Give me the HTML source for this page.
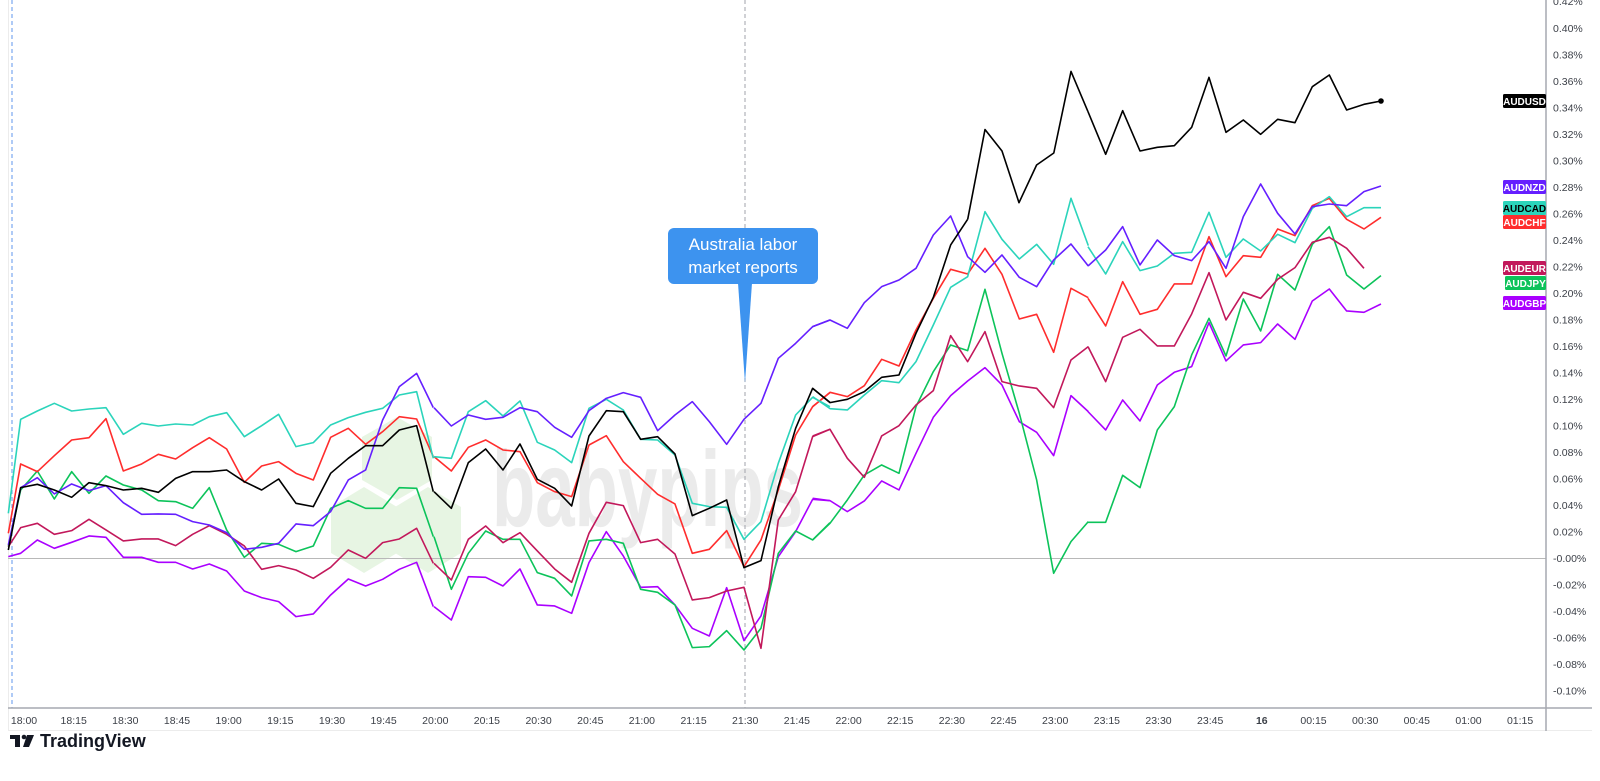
<!DOCTYPE html>
<html><head><meta charset="utf-8"><style>
html,body{margin:0;padding:0;background:#fff;width:1600px;height:781px;overflow:hidden}
svg{display:block;font-family:"Liberation Sans",sans-serif}
</style></head><body>
<svg width="1600" height="781" viewBox="0 0 1600 781" xmlns="http://www.w3.org/2000/svg">
<rect width="1600" height="781" fill="#fff"/>
<g fill="#e7f5e3">
<polygon points="397,417 432,437 432,480 397,500 362,480 362,437"/>
<polygon points="364,487 397,507 397,553 364,573 331,553 331,507"/>
<polygon points="428,487 461,507 461,553 428,573 395,553 395,507"/>
</g>
<text x="492" y="526" font-size="108" font-weight="bold" fill="#ebebeb" textLength="311" lengthAdjust="spacingAndGlyphs">babypips</text>
<line x1="8" y1="730.5" x2="1592" y2="730.5" stroke="#ececec"/>
<line x1="8.5" y1="0" x2="8.5" y2="730" stroke="#ececec"/>
<line x1="12" y1="0" x2="12" y2="708" stroke="#7aa8f0" stroke-width="1.2" stroke-dasharray="4,3"/>
<line x1="745" y1="0" x2="745" y2="708" stroke="#a0a3ab" stroke-width="1" stroke-dasharray="4,3"/>
<line x1="8" y1="558.5" x2="1546" y2="558.5" stroke="#b8b8b8" stroke-width="1"/>
<line x1="8" y1="708" x2="1592" y2="708" stroke="#a6a9b0" stroke-width="1.5"/>
<line x1="1546" y1="0" x2="1546" y2="731" stroke="#a6a9b0" stroke-width="1.5"/>
<g fill="none" stroke-width="1.6" stroke-linejoin="round">
<g stroke="#aa00ff">
<polyline transform="translate(0,340) scale(0.3333)" vector-effect="non-scaling-stroke" points="25,650 62,640 112,600 163,625 215,607 267,588 318,592 370,652 425,652 475,667 527,667 578,687 628,672 680,693 733,753 785,773 836,785 888,830 940,822 992,765 1045,717 1097,738 1148,718 1198,688 1250,667 1300,800"/>
<polyline transform="translate(430,340) scale(0.3333)" vector-effect="non-scaling-stroke" points="12,800 64,840 115,710 167,712 219,738 270,687 322,795 374,798 425,820 477,668 529,575 580,648 632,742 683,740 735,795 787,865 838,888 890,743 942,902 993,828 1045,650 1097,575 1148,478 1200,482"/>
<polyline transform="translate(800,180) scale(0.3333)" vector-effect="non-scaling-stroke" points="38,955 90,962 142,995 193,963 245,903 297,930 348,820 400,712 452,647 503,603 555,563 606,615 658,725 710,757 761,827 813,647 865,695"/>
<polyline transform="translate(1090,50) scale(0.3333)" vector-effect="non-scaling-stroke" points="-6,1085 47,1140 98,1050 150,1113 202,1005 253,967 305,950 357,818 408,933 460,885 512,878 563,822 615,868 667,753 718,717 770,783 822,787 873,762"/>
</g>
<g stroke="#0cc35a">
<polyline transform="translate(0,340) scale(0.3333)" vector-effect="non-scaling-stroke" points="25,620 62,450 112,393 163,477 215,395 267,460 318,408 370,435 425,450 475,482 527,485 578,505 628,443 680,570 733,652 785,610 836,613 888,635 940,618 992,505 1045,482 1097,505 1148,505 1198,443 1250,445 1300,590"/>
<polyline transform="translate(430,340) scale(0.3333)" vector-effect="non-scaling-stroke" points="12,590 64,748 115,640 167,573 219,598 270,598 322,698 374,715 425,768 477,603 529,598 580,610 632,748 683,757 735,795 787,923 838,920 890,872 942,930 993,865 1045,640 1097,573 1148,600 1200,548"/>
<polyline transform="translate(800,180) scale(0.3333)" vector-effect="non-scaling-stroke" points="38,1080 90,1030 142,960 193,885 245,855 297,880 348,680 400,575 452,495 503,512 555,328 606,520 658,700 710,900 761,1180 813,1085 865,1025"/>
<polyline transform="translate(1090,50) scale(0.3333)" vector-effect="non-scaling-stroke" points="-6,1417 47,1417 98,1276 150,1313 202,1140 253,1070 305,915 357,805 408,918 460,747 512,843 563,673 615,720 667,583 718,530 770,675 822,717 873,677"/>
</g>
<g stroke="#c2185b">
<polyline transform="translate(0,340) scale(0.3333)" vector-effect="non-scaling-stroke" points="25,620 62,563 112,550 163,583 215,572 267,538 318,570 370,603 425,597 475,597 527,617 578,583 628,557 680,583 733,618 785,688 836,677 888,690 940,715 992,682 1045,630 1097,655 1148,608 1198,597 1250,565 1300,670"/>
<polyline transform="translate(430,340) scale(0.3333)" vector-effect="non-scaling-stroke" points="12,670 64,720 115,598 167,558 219,608 270,578 322,633 374,687 425,727 477,580 529,487 580,497 632,608 683,598 735,642 787,780 838,773 890,753 942,742 993,925 1045,540 1097,455 1148,290 1200,268"/>
<polyline transform="translate(800,180) scale(0.3333)" vector-effect="non-scaling-stroke" points="38,768 90,748 142,835 193,892 245,768 297,737 348,675 400,632 452,467 503,545 555,455 606,605 658,618 710,625 761,683 813,540 865,500"/>
<polyline transform="translate(1090,50) scale(0.3333)" vector-effect="non-scaling-stroke" points="-6,890 47,995 98,862 150,838 202,888 253,888 305,792 357,668 408,810 460,727 512,745 563,688 615,653 667,577 718,562 770,595 822,655"/>
</g>
<g stroke="#ff2d2d">
<polyline transform="translate(0,340) scale(0.3333)" vector-effect="non-scaling-stroke" points="25,580 62,372 112,395 163,347 215,300 267,293 318,236 370,393 425,372 475,343 527,357 578,323 628,293 680,327 733,427 785,378 836,365 888,400 940,420 992,292 1045,265 1097,313 1148,275 1198,230 1250,237 1300,350"/>
<polyline transform="translate(430,340) scale(0.3333)" vector-effect="non-scaling-stroke" points="12,350 64,393 115,322 167,300 219,330 270,335 322,428 374,455 425,470 477,315 529,287 580,365 632,415 683,463 735,492 787,640 838,628 890,572 942,680 993,600 1045,450 1097,285 1148,200 1200,158"/>
<polyline transform="translate(800,180) scale(0.3333)" vector-effect="non-scaling-stroke" points="38,680 90,637 142,650 193,617 245,538 297,558 348,450 400,355 452,268 503,282 555,205 606,283 658,417 710,403 761,517 813,325 865,353"/>
<polyline transform="translate(1090,50) scale(0.3333)" vector-effect="non-scaling-stroke" points="-6,745 47,828 98,695 150,793 202,778 253,702 305,702 357,560 408,680 460,617 512,622 563,537 615,557 667,467 718,445 770,508 822,537 873,502"/>
</g>
<g stroke="#2bd4bb">
<polyline transform="translate(0,340) scale(0.3333)" vector-effect="non-scaling-stroke" points="25,520 62,238 112,213 163,190 215,213 267,207 318,203 370,283 425,250 475,258 527,252 578,255 628,230 680,218 733,290 785,257 836,223 888,320 940,308 992,255 1045,233 1097,217 1148,205 1198,165 1250,155 1300,355"/>
<polyline transform="translate(430,340) scale(0.3333)" vector-effect="non-scaling-stroke" points="12,350 64,355 115,215 167,182 219,228 270,183 322,307 374,330 425,368 477,205 529,178 580,210 632,298 683,300 735,345 787,490 838,500 890,502 942,598 993,545 1045,370 1097,225 1148,172 1200,200"/>
<polyline transform="translate(800,180) scale(0.3333)" vector-effect="non-scaling-stroke" points="38,650 90,686 142,690 193,645 245,602 297,608 348,545 400,435 452,322 503,290 555,95 606,178 658,237 710,193 761,253 813,55 865,197"/>
<polyline transform="translate(1090,50) scale(0.3333)" vector-effect="non-scaling-stroke" points="-6,590 47,672 98,575 150,662 202,648 253,610 305,607 357,487 408,622 460,567 512,603 563,553 615,578 667,475 718,440 770,500 822,473 873,473"/>
</g>
<g stroke="#651fff">
<polyline transform="translate(0,340) scale(0.3333)" vector-effect="non-scaling-stroke" points="25,615 62,443 112,413 163,462 215,432 267,452 318,437 370,488 425,523 475,522 527,523 578,545 628,555 680,578 733,628 785,622 836,610 888,552 940,557 992,515 1045,420 1097,390 1148,240 1198,140 1250,100 1300,203"/>
<polyline transform="translate(430,340) scale(0.3333)" vector-effect="non-scaling-stroke" points="12,203 64,258 115,225 167,238 219,232 270,203 322,215 374,262 425,292 477,212 529,175 580,158 632,172 683,272 735,225 787,185 838,245 890,313 942,238 993,190 1045,55 1097,10 1148,-40 1200,-60"/>
<polyline transform="translate(800,180) scale(0.3333)" vector-effect="non-scaling-stroke" points="38,440 90,420 142,445 193,368 245,320 297,300 348,265 400,165 452,108 503,230 555,277 606,225 658,292 710,320 761,240 813,192 865,258"/>
<polyline transform="translate(1090,50) scale(0.3333)" vector-effect="non-scaling-stroke" points="-6,648 47,600 98,530 150,645 202,570 253,617 305,632 357,575 408,655 460,500 512,402 563,490 615,552 667,470 718,462 770,467 822,425 873,408"/>
</g>
<g stroke="#000">
<polyline transform="translate(0,340) scale(0.3333)" vector-effect="non-scaling-stroke" points="25,630 62,443 112,433 163,450 215,472 267,428 318,437 370,450 425,445 475,457 527,415 578,395 628,395 680,390 733,425 785,450 836,417 888,490 940,500 992,400 1045,355 1097,317 1148,317 1198,270 1250,257 1300,455"/>
<polyline transform="translate(430,340) scale(0.3333)" vector-effect="non-scaling-stroke" points="12,455 64,505 115,368 167,327 219,390 270,312 322,418 374,445 425,498 477,288 529,212 580,215 632,298 683,290 735,342 787,527 838,505 890,480 942,683 993,662 1045,440 1097,265 1148,145 1200,187"/>
<polyline transform="translate(800,180) scale(0.3333)" vector-effect="non-scaling-stroke" points="38,625 90,668 142,658 193,635 245,592 297,585 348,460 400,352 452,195 503,118"/>
<polyline points="967.7,219.3 985,129.5 1002,151 1019,202.7 1036.6,165 1053.8,153 1071,71.4 1088,111.7"/>
<polyline transform="translate(1090,50) scale(0.3333)" vector-effect="non-scaling-stroke" points="-6,185 47,313 98,182 150,303 202,292 253,287 305,232 357,82 408,247 460,210 512,253 563,208 615,218 667,110 718,75 770,180 822,163 873,153"/>
</g>
</g>
<circle cx="1381" cy="101" r="2.8" fill="#000"/>
<rect x="668" y="228" width="150" height="56" rx="6" fill="#3d93ef"/>
<polygon points="738,283 752,283 745,383" fill="#3d93ef"/>
<text x="743" y="250" font-size="17" fill="#fff" text-anchor="middle">Australia labor</text>
<text x="743" y="273" font-size="17" fill="#fff" text-anchor="middle">market reports</text>
<g font-size="10.5" fill="#3b3f47">
<text x="1553" y="5">0.42%</text>
<text x="1553" y="32">0.40%</text>
<text x="1553" y="58.5">0.38%</text>
<text x="1553" y="85">0.36%</text>
<text x="1553" y="111.5">0.34%</text>
<text x="1553" y="138">0.32%</text>
<text x="1553" y="164.5">0.30%</text>
<text x="1553" y="191">0.28%</text>
<text x="1553" y="217.5">0.26%</text>
<text x="1553" y="244">0.24%</text>
<text x="1553" y="270.5">0.22%</text>
<text x="1553" y="297">0.20%</text>
<text x="1553" y="323.5">0.18%</text>
<text x="1553" y="350">0.16%</text>
<text x="1553" y="376.5">0.14%</text>
<text x="1553" y="403">0.12%</text>
<text x="1553" y="429.5">0.10%</text>
<text x="1553" y="456">0.08%</text>
<text x="1553" y="482.5">0.06%</text>
<text x="1553" y="509">0.04%</text>
<text x="1553" y="535.5">0.02%</text>
<text x="1553" y="562">-0.00%</text>
<text x="1553" y="588.5">-0.02%</text>
<text x="1553" y="615">-0.04%</text>
<text x="1553" y="641.5">-0.06%</text>
<text x="1553" y="668">-0.08%</text>
<text x="1553" y="694.5">-0.10%</text>
</g>
<g font-size="10" font-weight="bold" text-anchor="middle">
<rect x="1503" y="94" width="43" height="14" rx="1.5" fill="#000"/><text x="1524.5" y="105" fill="#fff">AUDUSD</text>
<rect x="1503" y="180" width="43" height="14" rx="1.5" fill="#651fff"/><text x="1524.5" y="191" fill="#fff">AUDNZD</text>
<rect x="1503" y="201" width="43" height="14" rx="1.5" fill="#2bd4bb"/><text x="1524.5" y="212" fill="#000">AUDCAD</text>
<rect x="1503" y="215" width="43" height="14" rx="1.5" fill="#ff2d2d"/><text x="1524.5" y="226" fill="#fff">AUDCHF</text>
<rect x="1503" y="261" width="43" height="14" rx="1.5" fill="#c2185b"/><text x="1524.5" y="272" fill="#fff">AUDEUR</text>
<rect x="1505" y="276" width="41" height="14" rx="1.5" fill="#0cc35a"/><text x="1525.5" y="287" fill="#fff">AUDJPY</text>
<rect x="1503" y="296" width="43" height="14" rx="1.5" fill="#aa00ff"/><text x="1524.5" y="307" fill="#fff">AUDGBP</text>
</g>
<g font-size="10.5" fill="#3b3f47" text-anchor="middle">
<text x="24" y="724">18:00</text>
<text x="73.7" y="724">18:15</text>
<text x="125.3" y="724">18:30</text>
<text x="177" y="724">18:45</text>
<text x="228.6" y="724">19:00</text>
<text x="280.3" y="724">19:15</text>
<text x="332" y="724">19:30</text>
<text x="383.6" y="724">19:45</text>
<text x="435.3" y="724">20:00</text>
<text x="486.9" y="724">20:15</text>
<text x="538.6" y="724">20:30</text>
<text x="590.3" y="724">20:45</text>
<text x="641.9" y="724">21:00</text>
<text x="693.6" y="724">21:15</text>
<text x="745.2" y="724">21:30</text>
<text x="796.9" y="724">21:45</text>
<text x="848.6" y="724">22:00</text>
<text x="900.2" y="724">22:15</text>
<text x="951.9" y="724">22:30</text>
<text x="1003.5" y="724">22:45</text>
<text x="1055.2" y="724">23:00</text>
<text x="1106.9" y="724">23:15</text>
<text x="1158.5" y="724">23:30</text>
<text x="1210.2" y="724">23:45</text>
<text x="1261.8" y="724" font-weight="bold">16</text>
<text x="1313.5" y="724">00:15</text>
<text x="1365.2" y="724">00:30</text>
<text x="1416.8" y="724">00:45</text>
<text x="1468.5" y="724">01:00</text>
<text x="1520.1" y="724">01:15</text>
</g>
<g fill="#131722">
<rect x="10" y="735" width="10" height="4"/>
<rect x="15" y="735" width="5" height="12"/>
<circle cx="24" cy="737" r="2.3"/>
<polygon points="27,735 34,735 29,747 23,747"/>
<text x="40" y="747" font-size="18" font-weight="bold">TradingView</text>
</g>
</svg>
</body></html>
